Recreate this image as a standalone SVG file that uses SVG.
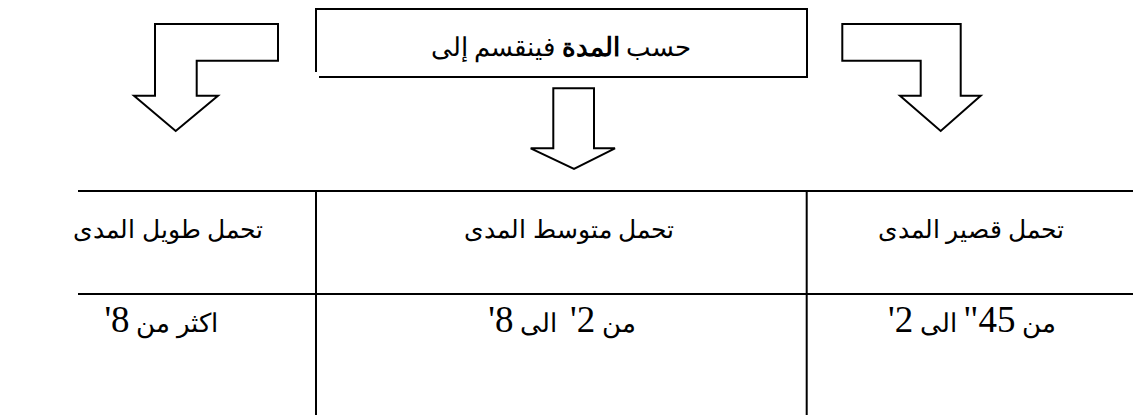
<svg xmlns="http://www.w3.org/2000/svg" width="1133" height="415" viewBox="0 0 1133 415">
<style>
.ln{fill:none;stroke:#000;stroke-width:2;stroke-linejoin:miter}
.ar{fill:#fff;stroke:#000;stroke-width:2;stroke-linejoin:miter}
.t{font-family:"Liberation Serif","DejaVu Serif",serif;font-size:25px;fill:#000;text-anchor:middle;direction:rtl;unicode-bidi:embed;white-space:pre}
.h{font-size:26px}
.r{font-size:26px}
.n{font-size:37px}
</style>
<rect width="1133" height="415" fill="#fff"/>
<g id="title">
<path class="ln" d="M316,72 V9 H807 V77 H319"/>
<text class="t h" x="561" y="56">حسب <tspan font-weight="bold">المدة</tspan> فينقسم إلى</text>
</g>
<g id="connectors">
<path class="ar" d="M278,24 H155 V95.7 H134 L175.7,131 L218,95.7 H196.7 V60.7 H278 Z"/>
<path class="ar" d="M553.3,88.3 H594 V148.3 H615 L574,169 L530.7,148.3 H553.3 Z"/>
<path class="ar" d="M842.3,24 H960.7 V95.7 H980.7 L940.7,131 L900,95.7 H920.7 V60.7 H842.3 Z"/>
</g>
<g id="table">
<path class="ln" d="M78,191 H1133 M78,294 H1133 M316,191 V415 M806.7,191 V415"/>
</g>
<g id="long">
<text class="t" x="168" y="238">تحمل طويل المدى</text>
<text class="t r" x="161" y="332">اكثر من <tspan class="n">8'</tspan></text>
</g>
<g id="medium">
<text class="t" x="569" y="238">تحمل متوسط المدى</text>
<text class="t r" x="562" y="332">من <tspan class="n">2'</tspan>  الى <tspan class="n">8'</tspan></text>
</g>
<g id="short">
<text class="t" x="971" y="238">تحمل قصير المدى</text>
<text class="t r" x="972" y="332">من <tspan class="n">45"</tspan> الى <tspan class="n">2'</tspan></text>
</g>
</svg>
